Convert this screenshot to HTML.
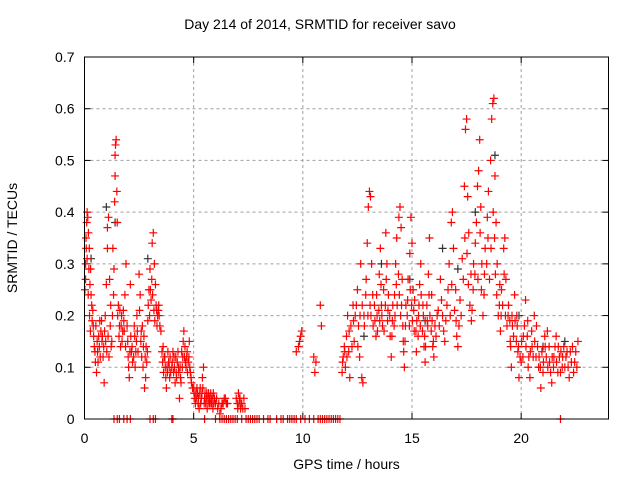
<!DOCTYPE html>
<html><head><meta charset="utf-8"><style>
body{margin:0;background:#fff}
svg{display:block;font-family:"Liberation Sans",sans-serif}
</style></head><body>
<svg id="chart" width="640" height="480"></svg>
<script>
const xTicks=[0,5,10,15,20];
const yTicks=[0,0.1,0.2,0.3,0.4,0.5,0.6,0.7];
const yTickLabels=["0","0.1","0.2","0.3","0.4","0.5","0.6","0.7"];
const redPoints=[
[0.05,0.27],[0.05,0.3],[0.08,0.33],[0.1,0.38],[0.12,0.4],[0.15,0.39],[0.18,0.36],[0.2,0.29],[0.22,0.33],[0.25,0.26],[0.28,0.29],[0.3,0.24],[0.33,0.22],[0.35,0.19],[0.4,0.18],[0.45,0.14],[0.5,0.11],[0.55,0.09],[0.6,0.13],[0.65,0.16],[0.7,0.19],[0.75,0.17],[0.8,0.15],[0.85,0.12],[0.9,0.07],[0.95,0.2],[1.0,0.26],[1.05,0.33],[1.05,0.37],[1.1,0.39],[1.15,0.27],[1.2,0.22],[1.25,0.15],[1.3,0.33],[1.35,0.29],[1.38,0.42],[1.4,0.47],[1.4,0.51],[1.42,0.53],[1.45,0.54],[1.48,0.44],[1.5,0.38],[1.55,0.22],[1.6,0.18],[1.65,0.14],[1.7,0.2],[1.75,0.17],[1.8,0.19],[1.85,0.24],[1.9,0.3],[1.95,0.18],[2.0,0.12],[2.05,0.08],[2.1,0.26],[2.15,0.13],[2.2,0.11],[2.3,0.16],[2.35,0.13],[2.4,0.2],[2.5,0.28],[2.55,0.24],[2.6,0.17],[2.7,0.14],[2.75,0.06],[2.8,0.08],[2.85,0.11],[2.9,0.19],[2.95,0.25],[3.0,0.29],[3.05,0.23],[3.1,0.34],[3.15,0.36],[3.2,0.3],[3.25,0.26],[3.3,0.21],[3.35,0.2],[3.4,0.22],[3.45,0.18],[3.5,0.17],[3.6,0.14],[3.65,0.12],[3.7,0.1],[3.75,0.06],[3.8,0.09],[3.85,0.11],[3.9,0.08],[4.0,0.1],[4.05,0.13],[4.1,0.12],[4.15,0.07],[4.2,0.09],[4.25,0.11],[4.3,0.1],[4.35,0.04],[4.4,0.08],[4.5,0.12],[4.55,0.17],[4.6,0.14],[4.65,0.1],[4.7,0.13],[4.75,0.11],[4.8,0.15],[4.85,0.09],[4.9,0.07],[5.0,0.06],[5.05,0.04],[5.1,0.05],[5.2,0.03],[5.25,0.02],[5.3,0.06],[5.4,0.08],[5.45,0.1],[5.5,0.04],[5.6,0.05],[5.7,0.03],[5.8,0.04],[5.9,0.05],[6.0,0.03],[6.1,0.02],[6.2,0.01],[6.3,0.03],[6.4,0.04],[6.5,0.03],[7.0,0.03],[7.05,0.05],[7.1,0.04],[7.15,0.02],[7.2,0.03],[7.3,0.04],[7.35,0.02],
[9.7,0.13],[9.8,0.14],[9.85,0.15],[9.9,0.16],[9.95,0.17],[10.5,0.12],[10.55,0.09],[10.6,0.11],[10.8,0.22],[10.85,0.18],
[11.8,0.09],[11.85,0.12],[11.9,0.14],[11.95,0.1],[12.0,0.16],[12.05,0.2],[12.1,0.13],[12.15,0.08],[12.2,0.18],[12.3,0.22],[12.35,0.15],[12.4,0.2],[12.5,0.25],[12.55,0.18],[12.6,0.12],[12.65,0.3],[12.7,0.08],[12.75,0.07],[12.8,0.2],[12.9,0.27],[12.95,0.34],[13.0,0.41],[13.05,0.44],[13.1,0.43],[13.15,0.3],[13.2,0.24],[13.3,0.19],[13.35,0.16],[13.4,0.2],[13.5,0.28],[13.55,0.33],[13.6,0.22],[13.65,0.18],[13.7,0.25],[13.8,0.36],[13.85,0.3],[13.9,0.21],[14.0,0.16],[14.05,0.12],[14.1,0.19],[14.2,0.24],[14.25,0.3],[14.3,0.35],[14.4,0.39],[14.45,0.41],[14.5,0.37],[14.55,0.27],[14.6,0.15],[14.65,0.1],[14.7,0.18],[14.8,0.23],[14.9,0.32],[14.95,0.39],[15.0,0.34],[15.05,0.25],[15.1,0.17],[15.2,0.13],[15.3,0.2],[15.35,0.26],[15.4,0.3],[15.5,0.22],[15.55,0.14],[15.6,0.11],[15.7,0.19],[15.75,0.28],[15.8,0.35],[15.9,0.24],[15.95,0.14],[16.0,0.12],[16.1,0.16],[16.2,0.21],[16.3,0.27],[16.4,0.2],[16.5,0.15],[16.6,0.22],[16.7,0.3],[16.8,0.38],[16.85,0.4],[16.9,0.33],[17.0,0.25],[17.05,0.16],[17.1,0.14],[17.2,0.23],[17.3,0.31],[17.4,0.45],[17.45,0.56],[17.5,0.58],[17.55,0.43],[17.6,0.36],[17.7,0.28],[17.75,0.21],[17.8,0.25],[17.9,0.34],[18.0,0.45],[18.05,0.48],[18.1,0.54],[18.15,0.41],[18.2,0.3],[18.3,0.24],[18.35,0.33],[18.45,0.39],[18.5,0.44],[18.6,0.5],[18.65,0.58],[18.7,0.61],[18.75,0.62],[18.8,0.47],[18.85,0.38],[18.9,0.3],[19.0,0.22],[19.05,0.17],[19.1,0.25],[19.2,0.33],[19.25,0.35],[19.3,0.27],[19.4,0.2],[19.5,0.15],[19.55,0.1],[19.6,0.18],[19.7,0.24],[19.8,0.2],[19.85,0.13],[19.9,0.08],[20.0,0.11],[20.1,0.16],[20.2,0.23],[20.3,0.19],[20.35,0.12],[20.4,0.08],[20.5,0.14],[20.6,0.2],[20.7,0.18],[20.8,0.1],[20.9,0.06],[21.0,0.09],[21.1,0.14],[21.2,0.17],[21.3,0.11],[21.4,0.07],[21.5,0.12],[21.6,0.16],[21.7,0.14],[21.8,0.09],[21.9,0.12],[22.0,0.1],[22.1,0.13],[22.2,0.08],[22.3,0.11],[22.4,0.09],[22.5,0.13],[22.6,0.15]];
const redPoints2=[
[0.02,0.25],[0.07,0.35],[0.12,0.31],[0.17,0.24],[0.23,0.2],[0.27,0.17],[0.38,0.21],[0.42,0.16],[0.48,0.13],[0.52,0.18],[0.58,0.15],[0.62,0.11],[0.68,0.14],[0.72,0.12],[0.78,0.19],[0.82,0.16],[0.88,0.14],[0.92,0.17],[0.97,0.15],[1.02,0.13],[1.08,0.16],[1.12,0.12],[1.18,0.18],[1.22,0.14],[1.28,0.2],[1.33,0.24],[1.52,0.2],[1.58,0.16],[1.62,0.21],[1.68,0.18],[1.72,0.15],[1.78,0.21],[1.82,0.17],[1.88,0.14],[1.98,0.15],[2.02,0.1],[2.08,0.13],[2.12,0.16],[2.18,0.14],[2.25,0.12],[2.28,0.18],[2.32,0.1],[2.38,0.15],[2.42,0.17],[2.45,0.13],[2.52,0.21],[2.58,0.15],[2.62,0.12],[2.65,0.18],[2.68,0.1],[2.72,0.16],[2.78,0.12],[2.82,0.14],[2.88,0.13],[2.92,0.22],[2.98,0.2],[3.02,0.25],[3.08,0.27],[3.12,0.24],[3.18,0.21],[3.22,0.19],[3.28,0.22],[3.32,0.18],[3.38,0.21],[3.42,0.2],[3.55,0.13],[3.58,0.11],[3.62,0.09],[3.68,0.12],[3.72,0.08],[3.78,0.1],[3.82,0.13],[3.88,0.1],[3.92,0.12],[3.95,0.09],[4.02,0.11],[4.08,0.09],[4.12,0.1],[4.18,0.12],[4.22,0.08],[4.28,0.13],[4.32,0.09],[4.38,0.1],[4.42,0.07],[4.45,0.13],[4.48,0.1],[4.52,0.15],[4.58,0.12],[4.62,0.11],[4.68,0.12],[4.72,0.09],[4.78,0.12],[4.82,0.1],[4.88,0.08],[4.95,0.06],[5.02,0.05],[5.08,0.03],[5.12,0.04],[5.15,0.06],[5.18,0.05],[5.22,0.04],[5.28,0.05],[5.32,0.03],[5.35,0.04],[5.38,0.05],[5.42,0.06],[5.48,0.03],[5.52,0.05],[5.55,0.03],[5.58,0.04],[5.62,0.02],[5.65,0.04],[5.68,0.05],[5.72,0.04],[5.75,0.03],[5.78,0.05],[5.82,0.03],[5.85,0.04],[5.88,0.02],[5.92,0.03],[5.95,0.04],[6.05,0.04],[6.15,0.03],[6.25,0.02],[6.35,0.03],[6.45,0.04],[6.55,0.03],[6.95,0.04],[7.02,0.02],[7.08,0.03],[7.12,0.04],[7.18,0.03],[7.25,0.02],
[11.82,0.11],[11.92,0.13],[12.02,0.12],[12.12,0.17],[12.25,0.14],[12.32,0.19],[12.45,0.22],[12.52,0.14],[12.62,0.2],[12.72,0.22],[12.82,0.18],[12.88,0.24],[12.98,0.2],[13.08,0.22],[13.12,0.2],[13.22,0.18],[13.28,0.22],[13.38,0.24],[13.42,0.17],[13.48,0.21],[13.52,0.19],[13.58,0.26],[13.62,0.2],[13.72,0.17],[13.78,0.22],[13.82,0.27],[13.88,0.19],[13.92,0.24],[13.98,0.2],[14.08,0.16],[14.12,0.22],[14.18,0.18],[14.22,0.2],[14.28,0.26],[14.32,0.22],[14.38,0.28],[14.42,0.24],[14.48,0.2],[14.52,0.22],[14.58,0.18],[14.62,0.13],[14.68,0.15],[14.72,0.22],[14.78,0.2],[14.82,0.27],[14.88,0.18],[14.92,0.25],[14.98,0.22],[15.02,0.19],[15.08,0.21],[15.12,0.23],[15.18,0.17],[15.22,0.19],[15.28,0.16],[15.32,0.22],[15.38,0.18],[15.42,0.24],[15.48,0.17],[15.52,0.2],[15.58,0.16],[15.62,0.14],[15.68,0.22],[15.72,0.18],[15.78,0.24],[15.82,0.2],[15.88,0.17],[15.92,0.19],[15.98,0.15],[16.05,0.18],[16.15,0.2],[16.25,0.18],[16.35,0.23],[16.45,0.17],[16.55,0.19],[16.65,0.25],[16.75,0.2],[16.82,0.26],[16.95,0.21],[17.02,0.19],[17.15,0.18],[17.25,0.2],[17.35,0.27],[17.42,0.35],[17.52,0.32],[17.58,0.26],[17.65,0.22],[17.72,0.19],[17.82,0.3],[17.88,0.28],[17.95,0.38],[18.02,0.27],[18.12,0.36],[18.18,0.25],[18.25,0.2],[18.32,0.28],[18.42,0.3],[18.48,0.35],[18.55,0.27],[18.62,0.33],[18.72,0.4],[18.78,0.35],[18.82,0.28],[18.88,0.24],[18.95,0.2],[19.02,0.26],[19.08,0.2],[19.15,0.22],[19.22,0.28],[19.28,0.2],[19.35,0.18],[19.42,0.22],[19.48,0.19],[19.52,0.14],[19.58,0.2],[19.65,0.16],[19.72,0.19],[19.78,0.15],[19.82,0.18],[19.88,0.14],[19.95,0.12],[20.02,0.15],[20.08,0.12],[20.15,0.18],[20.22,0.14],[20.28,0.16],[20.32,0.1],[20.42,0.13],[20.48,0.17],[20.55,0.12],[20.62,0.15],[20.68,0.12],[20.75,0.14],[20.82,0.12],[20.88,0.1],[20.95,0.13],[21.02,0.11],[21.08,0.16],[21.15,0.12],[21.22,0.1],[21.28,0.14],[21.35,0.09],[21.42,0.12],[21.48,0.1],[21.55,0.14],[21.62,0.11],[21.68,0.09],[21.75,0.12],[21.82,0.13],[21.88,0.1],[21.95,0.14],[22.05,0.12],[22.15,0.1],[22.25,0.13],[22.35,0.14],[22.45,0.11],[22.55,0.1]];
const blackPoints=[[0.3,0.31],[1.0,0.41],[1.4,0.38],[2.9,0.31],[12.8,0.16],[13.6,0.3],[14.9,0.27],[15.6,0.19],[16.4,0.33],[17.1,0.29],[17.9,0.4],[18.8,0.51],[19.9,0.2],[21.0,0.14],[22.0,0.15]];
const zeroTimes=[1.35,1.5,1.6,1.8,1.95,2.1,3.0,3.15,3.25,4.0,4.05,5.5,6.0,6.2,6.3,6.4,6.5,6.6,6.7,6.8,6.9,7.0,7.2,7.4,7.5,7.6,7.7,7.8,7.9,8.0,8.2,8.4,8.5,8.8,9.0,9.1,9.3,9.4,9.5,9.6,9.7,9.9,10.1,10.3,10.5,10.7,10.8,10.9,11.0,11.1,11.2,11.3,11.4,11.5,11.6,11.7,21.8];

const NS="http://www.w3.org/2000/svg";
const svg=document.getElementById('chart');
const L=84.5,R=608.5,T=57,B=419;
const xs=t=>L+(t/24)*(R-L);
const ys=v=>B-(v/0.7)*(B-T);
function mk(tag,attrs,parent){const e=document.createElementNS(NS,tag);for(const k in attrs)e.setAttribute(k,attrs[k]);(parent||svg).appendChild(e);return e;}
yTicks.forEach((v,i)=>{
  if(v>0&&v<0.7){const g=mk('line',{x1:L,x2:R,y1:ys(v),y2:ys(v),stroke:'#a0a0a0','stroke-dasharray':'3,3','stroke-width':1});
  
  }
  const t=mk('text',{x:L-10,y:ys(v)+5,'text-anchor':'end','font-size':14,fill:'#000'});t.textContent=yTickLabels[i];
  
  
  mk('line',{x1:L,x2:L+6,y1:ys(v),y2:ys(v),stroke:'#000'});
  mk('line',{x1:R,x2:R-6,y1:ys(v),y2:ys(v),stroke:'#000'});
});
xTicks.forEach(v=>{
  if(v>0){const g=mk('line',{x1:xs(v),x2:xs(v),y1:T,y2:B,stroke:'#a0a0a0','stroke-dasharray':'3,3','stroke-width':1});
  
  }
  const t=mk('text',{x:xs(v),y:B+24,'text-anchor':'middle','font-size':14,fill:'#000'});t.textContent=String(v);
  
  
  mk('line',{x1:xs(v),x2:xs(v),y1:B,y2:B-6,stroke:'#000'});
  mk('line',{x1:xs(v),x2:xs(v),y1:T,y2:T+6,stroke:'#000'});
});
function plus(t,v,col,name){
  const x=xs(t),y=ys(v);
  const p=mk('path',{d:`M${x-4},${y}H${x+4}M${x},${y-4}V${y+4}`,stroke:col,'stroke-width':1.2,fill:'none'});
  
  
}
blackPoints.forEach(p=>plus(p[0],p[1],'#333','srmtid-point-black'));
redPoints.forEach(p=>plus(p[0],p[1],'#f00','srmtid-point'));
redPoints2.forEach(p=>plus(p[0],p[1],'#f00','srmtid-point'));
zeroTimes.forEach(t=>plus(t,0,'#f00','srmtid-zero-point'));
const f=mk('rect',{x:L,y:T,width:R-L,height:B-T,fill:'none',stroke:'#000','stroke-width':1});


</script>
<div style="position:absolute;left:0;top:16px;width:640px;text-align:center;font:14px 'Liberation Sans',sans-serif">Day 214 of 2014, SRMTID for receiver savo</div>
<div style="position:absolute;left:0;top:456px;width:693px;text-align:center;font:14px 'Liberation Sans',sans-serif">GPS time / hours</div>
<div style="position:absolute;left:-48px;top:230px;width:120px;text-align:center;font:14px 'Liberation Sans',sans-serif;transform:rotate(-90deg)">SRMTID / TECUs</div>
</body></html>
